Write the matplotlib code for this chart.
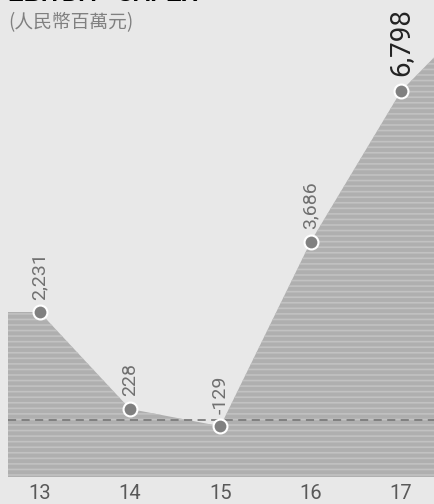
import numpy as np
import matplotlib
matplotlib.use('Agg')
import matplotlib.pyplot as plt

plt.rcParams['font.family'] = ['Liberation Sans Narrow', 'Roboto', 'DejaVu Sans']
plt.rcParams['hatch.linewidth'] = 1.2
plt.rcParams['hatch.color'] = '#c2c2c2'

# data (13-17 labelled, edges continue past the frame)
years = [13, 14, 15, 16, 17]
values = [2231, 228, -129, 3686, 6798]
labels = ['2,231', '228', '-129', '3,686', '6,798']
edge_years = [12, 13, 14, 15, 16, 17, 18]
edge_values = [2231, 2231, 228, -129, 3686, 6798, 8700]

bg = '#e8e8e8'
fig = plt.figure(figsize=(4.35, 5.04), dpi=100, facecolor=bg)
ax = fig.add_axes([8 / 435, 1 - 477 / 504, 1 - 8 / 435, 477 / 504])
ax.set_facecolor(bg)

ymin = -1178
ax.fill_between(edge_years, edge_values, ymin, facecolor='#afafaf',
                edgecolor='#c2c2c2', hatch='---', linewidth=0, zorder=1)
ax.axhline(0, color='#7c7c7c', linestyle=(0, (4.5, 3)), linewidth=1.3, zorder=2)
ax.plot(years, values, 'o', color='#808080', markersize=10,
        markeredgecolor='white', markeredgewidth=1.5, zorder=3, clip_on=False)

for i, (x, y, t) in enumerate(zip(years, values, labels)):
    last = i == len(years) - 1
    ax.annotate(t, (x, y), xytext=(0, 9 if not last else 11), textcoords='offset points',
                rotation=90, ha='center', va='bottom',
                fontsize=20 if last else 14,
                color='#222222' if last else '#707070')

ax.set_xlim(12.65, 17.375)
ax.set_ylim(ymin, 8678)
ax.set_yticks([])
ax.set_xticks(years)
ax.set_xticklabels([str(y) for y in years], fontsize=14.5, color='#595959')
ax.tick_params(axis='x', length=0, pad=5)
for s in ax.spines.values():
    s.set_visible(False)

fig.text(8 / 435, 1 - 1 / 504, 'EBITDA - CAPEX', fontsize=17, fontweight='bold',
         color='black', va='baseline', ha='left',
         family=['Liberation Sans', 'DejaVu Sans'])
fig.text(8 / 435, 1 - 23 / 504, '(人民幣百萬元)', fontsize=13.5, color='#808080',
         va='center', ha='left', family=['Noto Sans CJK TC', 'DejaVu Sans'])
fig.savefig('out.png', dpi=100, facecolor=bg)
